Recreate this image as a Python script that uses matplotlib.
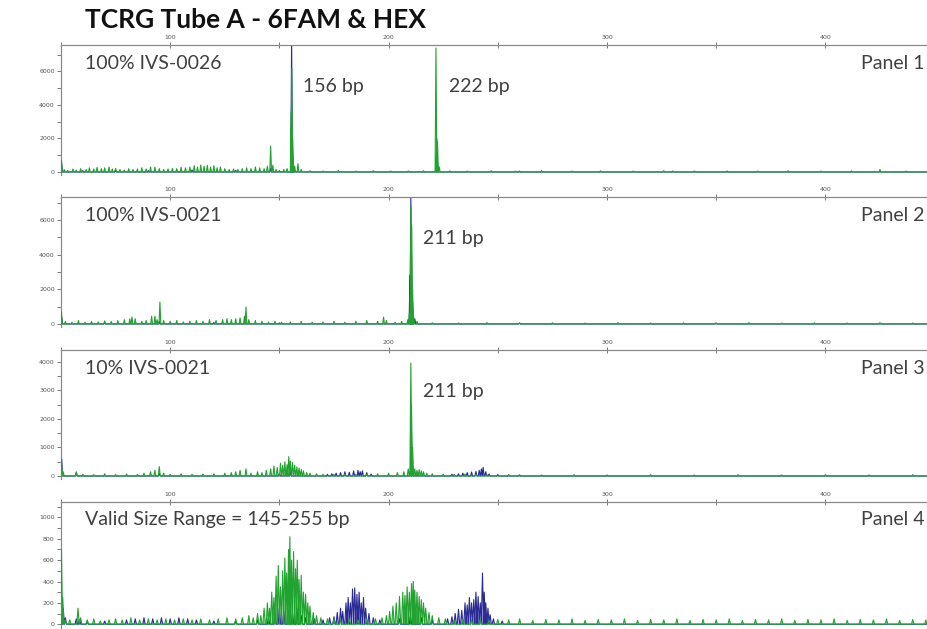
import numpy as np
import matplotlib.pyplot as plt
from matplotlib.ticker import MultipleLocator

# size axis (bp) and panel texts
x_min, x_max = 50, 447
size_ticks = [100, 200, 300, 400]
panel_names = ["Panel 1", "Panel 2", "Panel 3", "Panel 4"]
sample_names = ["100% IVS-0026", "100% IVS-0021", "10% IVS-0021",
                "Valid Size Range = 145-255 bp"]
peak_labels = [[(160.8, "156 bp"), (227.6, "222 bp")],
               [(215.7, "211 bp")],
               [(215.7, "211 bp")],
               []]
y_limits = [(-180, 7580), (-175, 7320), (-105, 4420), (-45, 1145)]
y_major = [2000, 2000, 1000, 200]

# Panel 1 - peaks (bp, rfu)
p1_green_bp = [50.2, 51.5, 53, 55.5, 57, 59, 61.5, 63, 65, 66.5, 68.5, 70, 72, 73.5, 75, 77,
               79, 81, 83, 85, 87, 89, 91, 93, 95, 97, 99, 101, 103, 105, 107, 109, 111,
               112.5, 114, 115.5, 117, 118.5, 120, 121.5, 123, 125, 127, 129, 131, 133, 135,
               137, 139, 141, 143, 144.5, 146, 147, 148.5, 150, 152, 153.5, 155.4, 155.7,
               156.1, 157, 158.5, 160, 164, 170, 177, 185, 193, 201, 209, 216, 221.7, 222.1,
               222.4, 223.2, 228, 236, 247, 258, 270, 284, 297, 312, 326, 340, 355, 369,
               383, 398, 412, 425, 437]
p1_green_h = [700, 150, 100, 180, 120, 200, 150, 250, 180, 280, 200, 250, 300, 180, 220, 150,
              120, 200, 150, 180, 250, 180, 300, 280, 200, 150, 180, 220, 200, 280, 250, 300, 380,
              300, 420, 350, 400, 300, 380, 250, 300, 200, 150, 180, 150, 200, 250,
              200, 300, 250, 200, 350, 1550, 400, 150, 100, 150, 200, 3600, 6200,
              2000, 350, 500, 150, 80, 60, 90, 60, 80, 60, 70, 80, 7400, 2000,
              1800, 300, 70, 60, 80, 60, 90, 60, 70, 60, 80, 60, 70, 60,
              80, 60, 70, 150, 60]
p1_blue_bp = [50.3, 60, 75, 90, 110, 130, 146, 155.6, 155.9, 156.3, 221.8, 222.3, 260, 330]
p1_blue_h = [500, 80, 100, 80, 120, 100, 200, 7800, 1200, 600, 800, 600, 50, 50]

# Panel 2
p2_green_bp = [50.2, 52, 55, 58, 61, 64, 67, 70, 73, 76, 79, 81.5, 82.5, 84, 87, 89, 91.5, 93,
               94, 95.3, 97, 100, 103, 106, 109, 112, 115, 118, 121, 124, 126, 128, 130, 132,
               134, 134.7, 136, 139, 142, 145, 148, 151, 155, 160, 165, 170, 175, 180, 185,
               190, 195, 197.7, 199, 203, 206, 208.8, 209.5, 210.2, 210.6, 211, 211.5, 213,
               220, 232, 245, 260, 275, 290, 305, 320, 335, 350, 365, 380, 395, 410, 425, 440]
p2_green_h = [700, 150, 100, 200, 100, 150, 120, 180, 150, 200, 250, 300, 400, 300, 150, 200,
              450, 450, 250, 1270, 200, 150, 200, 120, 150, 200, 150, 250, 200, 250, 300, 250,
              300, 350, 450, 980, 250, 200, 150, 100, 150, 100, 120, 150, 100, 120, 150, 100,
              150, 200, 150, 400, 200, 100, 150, 250, 600, 6800, 5650, 2000, 400, 150,
              70, 60, 80, 60, 70, 60, 80, 60, 70, 60, 80, 60, 70, 60, 80, 60]
p2_blue_bp = [50.3, 70, 95, 120, 150, 209.8, 210.2, 210.5, 211, 212, 260, 350]
p2_blue_h = [400, 80, 150, 80, 60, 2800, 7400, 4000, 1200, 300, 50, 50]

# Panel 3
p3_green_bp = [50.2, 51, 57, 60, 65, 70, 75, 80, 85, 88, 91, 93, 95, 97, 100, 105, 110, 115,
               120, 125, 128, 130, 132, 134.7, 137, 140, 142, 144, 146, 147.5, 149, 150.5,
               151.5, 152.5, 153.5, 154.3, 155, 156, 157, 158, 159, 160, 161, 162.5, 164,
               167, 170, 175, 180, 185, 190, 195, 200, 204, 207, 209, 210.2, 210.5, 211,
               212, 213, 214, 215, 216, 217.5, 220, 225, 230, 235, 240, 245, 255, 270, 285,
               300, 320, 340, 360, 380, 400, 420, 440]
p3_green_h = [600, 150, 150, 60, 50, 80, 50, 70, 60, 100, 150, 200, 330, 100, 60, 80, 60, 70,
              80, 100, 120, 150, 200, 250, 100, 150, 120, 200, 250, 350, 300, 450,
              380, 500, 400, 680, 520, 480, 380, 320, 280, 230, 180, 120, 100,
              80, 60, 60, 70, 60, 70, 80, 100, 120, 150, 250, 3960, 2500, 1000,
              250, 200, 220, 180, 150, 100, 80, 60, 60, 70, 60, 50, 50, 40, 50,
              40, 50, 40, 50, 40, 50, 40, 50]
p3_blue_bp = [50.3, 57, 95, 150, 155, 172, 174, 176, 178, 180, 182, 184, 186, 187, 188, 190,
              192, 210, 211, 229, 232, 234, 236, 238, 240, 241.5, 242.5, 243.3, 244.5, 246,
              250, 260]
p3_blue_h = [600, 120, 80, 80, 150, 60, 80, 100, 120, 150, 130, 180, 200, 150, 180, 120,
             70, 150, 300, 60, 80, 100, 120, 140, 160, 200, 250, 300, 150, 70,
             50, 40]

# Panel 4
p4_green_bp = [50.2, 50.8, 52, 54, 57.8, 59, 62, 65, 68, 72, 75, 78, 82, 86, 90, 94, 98, 102,
               106, 110, 114, 118, 122, 126, 130, 133, 136, 138, 140, 141.5, 143, 144.5,
               145.5, 146.5, 147.5, 148.5, 149.5, 150.5, 151.5, 152.5, 153.3, 154.2, 154.8,
               155.6, 156.5, 157.4, 158.2, 159, 160, 161, 162, 163, 164, 165.5, 167, 169,
               172, 175, 178, 182, 186, 190, 194, 197, 199, 200.5, 202, 203.5, 205, 206.5,
               207.5, 208.5, 209.5, 210.5, 211.3, 212, 213, 214, 215, 216, 217, 218.5, 220,
               223, 226, 230, 234, 238, 242, 246, 250, 255, 260, 266, 272, 278, 284, 290,
               296, 302, 308, 314, 320, 326, 332, 338, 344, 350, 356, 362, 368, 374, 380,
               386, 392, 398, 404, 410, 416, 422, 428, 434, 440, 446]
p4_green_h = [700, 250, 40, 40, 150, 60, 40, 50, 30, 40, 50, 40, 60, 40, 50, 40, 50, 40,
              50, 40, 50, 40, 50, 60, 50, 60, 80, 60, 100, 80, 150, 200,
              150, 300, 250, 450, 550, 350, 500, 620, 480, 700, 820,
              600, 680, 520, 600, 420, 460, 300, 280, 200, 170, 110, 80, 60,
              50, 50, 40, 50, 40, 50, 50, 60, 80, 120, 170, 200, 260, 300,
              270, 350, 300, 380, 400, 320, 300, 260, 230, 200, 150, 110, 80,
              60, 50, 40, 45, 40, 50, 35, 45, 40, 50, 35, 45, 40, 50, 35,
              45, 40, 50, 35, 45, 40, 50, 35, 45, 40, 50, 35, 45, 40, 50,
              35, 45, 40, 50, 35, 45, 40, 50, 35, 45, 40]
p4_blue_bp = [50.3, 51, 52, 57, 58.5, 62, 70, 80, 84, 88, 92, 96, 100, 104, 108, 112, 120,
              130, 140, 145, 148, 150, 152, 154, 156, 158, 160, 162, 166, 170, 173, 175,
              176.5, 178, 179, 180.5, 181.5, 182.5, 183.5, 184.5, 185.5, 186.5, 187.5,
              188.5, 189.5, 191, 193, 196, 205, 210, 215, 220, 227, 229, 230.5, 232, 233.5,
              235, 236, 237, 238, 239, 240, 241, 242, 243, 243.8, 244.5, 245.5, 246.5, 248,
              252]
p4_blue_h = [200, 150, 60, 50, 40, 30, 30, 40, 50, 60, 50, 60, 50, 60, 50, 40, 30,
             30, 40, 60, 100, 150, 120, 130, 100, 150, 80, 60, 50, 40, 60, 70,
             110, 150, 120, 200, 250, 200, 330, 340, 280, 300, 200,
             250, 150, 100, 60, 40, 50, 80, 60, 40, 50, 70, 100, 140, 130,
             200, 180, 250, 200, 230, 300, 260, 200, 480, 300, 200, 150, 90, 50,
             30]

green_bp = [p1_green_bp, p2_green_bp, p3_green_bp, p4_green_bp]
green_h = [p1_green_h, p2_green_h, p3_green_h, p4_green_h]
blue_bp = [p1_blue_bp, p2_blue_bp, p3_blue_bp, p4_blue_bp]
blue_h = [p1_blue_h, p2_blue_h, p3_blue_h, p4_blue_h]
spike_w = [0.4, 0.4, 0.45, 0.55]

GREEN = "#22a230"
GREEN_FILL = "#93d593"
BLUE = "#2a2a95"
BLUE_FILL = "#8c8cd8"
TEXT = "#404040"
AXIS = "#8a8a8a"


def trace(bp, h, w=0.4):
    # each peak as a narrow spike on a flat baseline
    xs, ys = [x_min], [0]
    for p, v in sorted(zip(bp, h)):
        xs += [p - w, p, p + w]
        ys += [0, v, 0]
    xs.append(x_max)
    ys.append(0)
    return np.array(xs), np.array(ys)


fig = plt.figure(figsize=(9.28, 6.29), dpi=100)
W, H = 928, 629
panel_px = [(45, 175), (197, 327), (350, 479), (502, 629)]
left_px = 61

for i in range(4):
    top, bot = panel_px[i]
    ax = fig.add_axes([left_px / W, 1 - bot / H, (W - left_px) / W, (bot - top) / H])
    ax.set_xlim(x_min, x_max)
    ax.set_ylim(*y_limits[i])

    gx, gy = trace(green_bp[i], green_h[i], spike_w[i])
    bx, by = trace(blue_bp[i], blue_h[i], spike_w[i])
    ax.fill(gx, gy, color=GREEN_FILL, alpha=0.6, lw=0, zorder=1)
    ax.fill(bx, by, color=BLUE_FILL, alpha=0.6, lw=0, zorder=1)
    ax.plot(gx, gy, color=GREEN, lw=0.8, zorder=3)
    ax.plot(bx, by, color=BLUE, lw=0.8, zorder=2)

    # axes look of the sizing software
    for s in ["bottom", "right"]:
        ax.spines[s].set_visible(False)
    for s in ["top", "left"]:
        ax.spines[s].set_color(AXIS)
        ax.spines[s].set_linewidth(0.9)
    ax.xaxis.tick_top()
    ax.set_xticks(size_ticks)
    ax.xaxis.set_minor_locator(MultipleLocator(50))
    ax.yaxis.set_major_locator(MultipleLocator(y_major[i]))
    ax.yaxis.set_minor_locator(MultipleLocator(y_major[i] / 2))
    ax.set_yticks([t for t in ax.get_yticks() if 0 <= t <= y_limits[i][1]])
    ax.tick_params(axis="x", which="both", direction="inout", length=4, width=0.6,
                   color="#666666", labelsize=4.5, labelcolor="#555555", pad=1.5)
    ax.tick_params(axis="y", which="both", direction="out", length=3, width=0.6,
                   color="#666666", labelsize=4.5, labelcolor="#555555", pad=1.5)
    ax.patch.set_alpha(0)

    ax.text(61, 0.86, sample_names[i], transform=ax.get_xaxis_transform(),
            fontsize=14, family="Lato", color=TEXT, va="center", ha="left")
    ax.text(0.9965, 0.86, panel_names[i], transform=ax.transAxes,
            fontsize=14, family="Lato", color=TEXT, va="center", ha="right")
    for xb, lab in peak_labels[i]:
        ax.text(xb, 0.68, lab, transform=ax.get_xaxis_transform(),
                fontsize=14, family="Lato", color=TEXT, va="center", ha="left")

fig.text(85 / W, 1 - 20 / H, "TCRG Tube A - 6FAM & HEX", fontsize=19,
         family="Lato", weight="bold", color="#111111", va="center", ha="left")

fig.savefig("out.png", dpi=100)
